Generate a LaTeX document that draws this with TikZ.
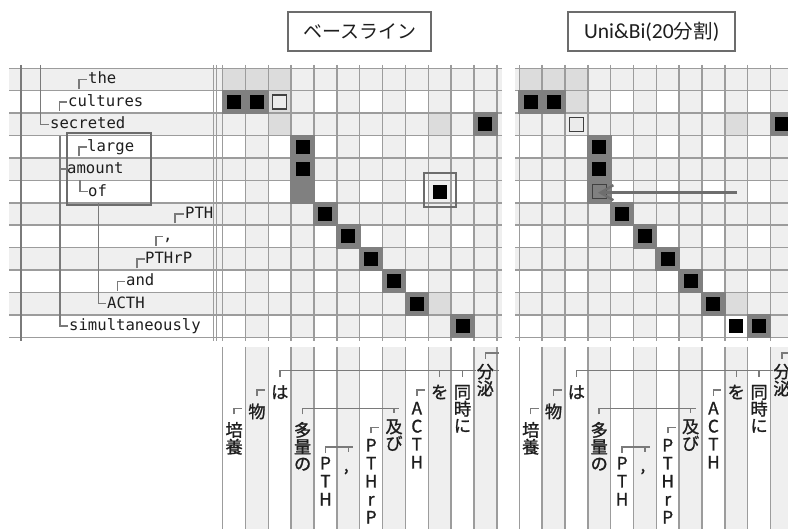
\documentclass[tikz,border=0pt]{standalone}
\usepackage{fontspec}
\setmainfont{Liberation Sans}
\newfontfamily\jpf{Noto Sans CJK JP}
\newfontfamily\jpb[FakeBold=1.2]{Noto Sans CJK JP}
\newfontfamily\monof{DejaVu Sans Mono}
\newfontfamily\calf{Carlito}
\usetikzlibrary{arrows.meta}
\definecolor{lg}{HTML}{EFEFEF}
\definecolor{mg}{HTML}{DCDCDC}
\definecolor{dg}{HTML}{808080}
\definecolor{ag}{HTML}{6E6E6E}
\definecolor{gl}{HTML}{9C9C9C}
\definecolor{tl}{HTML}{7A7A7A}
\definecolor{tx}{HTML}{1E1E1E}
\def\W{22.84}\def\H{22.42}\def\Ty{68.3}\def\LX{222.7}\def\RX{519.3}
\newcommand\mgcell[3]{\fill[mg] ({#1+(#3-1)*\W},{\Ty+(#2-1)*\H}) rectangle ({#1+#3*\W},{\Ty+#2*\H});}
\newcommand\whcell[3]{\fill[white] ({#1+(#3-1)*\W},{\Ty+(#2-1)*\H}) rectangle ({#1+#3*\W},{\Ty+#2*\H});}
\newcommand\dkcell[3]{\fill[dg] ({#1+(#3-1)*\W-0.9},{\Ty+(#2-1)*\H-0.9}) rectangle ({#1+#3*\W+0.9},{\Ty+#2*\H+0.9});}
\newcommand\bksq[3]{\fill[black] ({#1+(#3-0.5)*\W-7},{\Ty+(#2-0.5)*\H-7}) rectangle ++(14,14);}
\newcommand\olsq[4]{\filldraw[fill=#4,draw=black!75,line width=1.2] ({#1+(#3-0.5)*\W-7},{\Ty+(#2-0.5)*\H-7}) rectangle ++(14,14);}
\newcommand\vtext[5]{\foreach \ch [count=\n] in {#5} \node[vt] (#1-\n) at ({#2},{#3+(\n-1)*#4}) {\ch};}
\newcommand\lowtree[2]{%
\begin{scope}[shift={(#1,0)}]
\draw[tr] ({11.5*\W},359) -- ({11.5*\W},353) -- ({11.5*\W+14},353);
\draw[tr] ({2.5*\W},377) -- ({2.5*\W},370.7) -- ({11.5*\W+14},370.7);
\draw[tr] ({9.5*\W},370.7) -- ++(0,6);
\draw[tr] ({10.5*\W},370.7) -- ++(0,6);
\draw[tr] ({1.5*\W},396) -- ({1.5*\W},390) -- ++(8,0);
\draw[tr] ({8.5*\W},396) -- ({8.5*\W},390) -- ++(8,0);
\draw[tr] ({0.5*\W},414.5) -- ({0.5*\W},408.5) -- ++(8,0);
\draw[tr] ({3.5*\W},414.5) -- ({3.5*\W},408.5) -- ({7.5*\W+5},408.5);
\draw[tr] ({7.5*\W},408.5) -- ++(0,5);
\draw[tr] ({6.5*\W},433.5) -- ({6.5*\W},427.5) -- ++(8,0);
\draw[tr] ({4.5*\W},453) -- ({4.5*\W},447) -- ({5.5*\W+5},447);
\draw[tr] ({5.5*\W},447) -- ++(0,5);
\vtext{#2a}{0.5*\W}{436.5}{16.8}{培,養}
\vtext{#2b}{1.5*\W}{418}{16.8}{物}
\vtext{#2c}{2.5*\W}{398.5}{16.8}{は}
\vtext{#2d}{3.5*\W}{436.5}{16.8}{多,量,の}
\vtext{#2e}{4.5*\W}{469.5}{18}{P,T,H}
\node[vt] (#2f) at ({5.5*\W-2},471) {,};
\vtext{#2g}{6.5*\W}{451.5}{18}{P,T,H,r,P}
\vtext{#2h}{7.5*\W}{433}{16.8}{及,び}
\vtext{#2i}{8.5*\W}{414.5}{18}{A,C,T,H}
\vtext{#2j}{9.5*\W}{398.5}{16.8}{を}
\vtext{#2k}{10.5*\W}{398.5}{16.8}{同,時,に}
\node[vt,fill=lg,inner sep=0.3] (#2l1) at ({11.5*\W},378) {分};
\node[vt,fill=lg,inner sep=0.3] (#2l2) at ({11.5*\W},395) {泌};
\end{scope}}
\begin{document}
\begin{tikzpicture}[x=1pt,y=-1pt,
  tr/.style={draw=tl,line width=1.5},
  vt/.style={font=\jpb\fontsize{17.2}{18}\selectfont,inner sep=0,anchor=base,text=tx},
  wd/.style={font=\monof\fontsize{15.6}{18}\selectfont,inner sep=0,anchor=base west,text=tx},
  ttl/.style={draw=gray!85!black,line width=2,fill=white,inner sep=0,text=tx}]
\useasboundingbox (0,0) rectangle (788,529);
% row stripes
\foreach \i in {1,3,...,11} {
  \fill[lg] (9,{\Ty+(\i-1)*\H}) rectangle (502,{\Ty+\i*\H});
  \fill[lg] (515,{\Ty+(\i-1)*\H}) rectangle (788,{\Ty+\i*\H});
}
% column stripes
\foreach \X in {\LX,\RX} \foreach \j in {2,4,...,12} {
  \fill[lg] ({\X+(\j-1)*\W},\Ty) rectangle ({\X+\j*\W},{\Ty+12*\H});
  \fill[lg] ({\X+(\j-1)*\W},347) rectangle ({\X+\j*\W},529);
}
\fill[lg] (496.7,\Ty) rectangle (502,{\Ty+12*\H});
% medium grey cells
\mgcell{\LX}{1}{1}\mgcell{\LX}{1}{2}\mgcell{\LX}{1}{3}\mgcell{\LX}{2}{3}
\mgcell{\LX}{3}{3}\mgcell{\LX}{3}{10}\mgcell{\LX}{11}{10}
\mgcell{\RX}{1}{1}\mgcell{\RX}{1}{2}\mgcell{\RX}{1}{3}\mgcell{\RX}{2}{3}
\mgcell{\RX}{3}{10}\mgcell{\RX}{11}{10}
\whcell{\RX}{12}{10}
% grid lines
\foreach \k in {0,...,12} {
  \draw[gl,line width=1.5] (9,{\Ty+\k*\H}) -- (502,{\Ty+\k*\H});
  \draw[gl,line width=1.5] (515,{\Ty+\k*\H}) -- (788,{\Ty+\k*\H});
  \draw[gl,line width=1.5] ({\LX+\k*\W},65) -- ({\LX+\k*\W},341);
  \draw[gl,line width=1.5] ({\LX+\k*\W},347) -- ({\LX+\k*\W},529);
}
\foreach \k in {0,...,11} {
  \draw[gl,line width=1.5] ({\RX+\k*\W},65) -- ({\RX+\k*\W},341);
  \draw[gl,line width=1.5] ({\RX+\k*\W},347) -- ({\RX+\k*\W},529);
}
\draw[gl,line width=1.5] (213.3,65) -- (213.3,341);
\draw[gl,line width=1.5] (216.7,65) -- (216.7,341);
% dark cells and squares: left
\foreach \i/\j in {2/1,2/2,3/12,4/4,5/4,6/4,7/5,8/6,9/7,10/8,11/9,12/11} {\dkcell{\LX}{\i}{\j}}
\foreach \i/\j in {2/1,2/2,3/12,4/4,5/4,7/5,8/6,9/7,10/8,11/9,12/11,6/10} {\bksq{\LX}{\i}{\j}}
\olsq{\LX}{2}{3}{black!8}
% dark cells and squares: right
\foreach \i/\j in {2/1,2/2,3/12,4/4,5/4,6/4,7/5,8/6,9/7,10/8,11/9,12/11} {\dkcell{\RX}{\i}{\j}}
\foreach \i/\j in {2/1,2/2,3/12,4/4,5/4,7/5,8/6,9/7,10/8,11/9,12/10,12/11} {\bksq{\RX}{\i}{\j}}
\olsq{\RX}{3}{3}{black!8}
\olsq{\RX}{6}{4}{dg}
% highlight boxes and arrow
\draw[gray!85!black,line width=2] (424,173.3) rectangle (456,206.7);
\draw[gray!85!black,line width=2] (66.7,132.7) rectangle (150.7,205);
\coordinate (arS) at (737,192.7);
\coordinate (arE) at (598,192.7);
\draw[ag,line width=2.8,-{Straight Barb[length=13pt,width=15pt,line width=2.4pt]}] (arS) -- (arE);
% word tree (left panel)
\draw[tr] (21,65) -- (21,341);
\draw[tr] (40.5,65) -- (40.5,124.4) -- (49,124.4);
\draw[tr] (79,89) -- (79,79.5) -- (87,79.5);
\draw[tr] (59.5,111) -- (59.5,101.9) -- (67,101.9);
\draw[tr] (79,156.5) -- (79,146.8) -- (87,146.8);
\draw[tr] (60,135.6) -- (60,326.1) -- (68,326.1);
\draw[tr] (60,169.2) -- (67,169.2);
\draw[tr] (80,180.4) -- (80,191.6) -- (88,191.6);
\draw[tr] (98.3,202.8) -- (98.3,303.7) -- (106,303.7);
\draw[tr] (175,223.5) -- (175,214.1) -- (184,214.1);
\draw[tr] (156,246) -- (156,236.5) -- (163,236.5);
\draw[tr] (137,268.4) -- (137,258.9) -- (145,258.9);
\draw[tr] (117.5,290.8) -- (117.5,281.3) -- (125,281.3);
\node[wd] (w1) at (88,84) {the};
\node[wd] (w2) at (68,106.4) {cultures};
\node[wd] (w3) at (50,128.9) {secreted};
\node[wd] (w4) at (87,151.3) {large};
\node[wd] (w5) at (67,173.7) {amount};
\node[wd] (w6) at (88,196.1) {of};
\node[wd] (w7) at (185,218.6) {PTH};
\node[wd] (w8) at (163,241) {,};
\node[wd] (w9) at (145,263.4) {PTHrP};
\node[wd] (w10) at (126,285.8) {and};
\node[wd] (w11) at (107,308.2) {ACTH};
\node[wd] (w12) at (69,330.6) {simultaneously};
% Japanese trees
\lowtree{\LX}{L}
\lowtree{\RX}{R}
% titles
\node[ttl,minimum width=142.7,minimum height=39,font=\jpf\fontsize{19}{22}\selectfont] (t1) at (359.7,31.2) {ベースライン};
\node[ttl,minimum width=166.7,minimum height=38.7] (t2) at (651.7,31.4) {{\calf\fontsize{21.5}{24}\selectfont Uni\&Bi(20}{\jpf\fontsize{19.5}{24}\selectfont 分割}{\calf\fontsize{21.5}{24}\selectfont )}};
\end{tikzpicture}
\end{document}
